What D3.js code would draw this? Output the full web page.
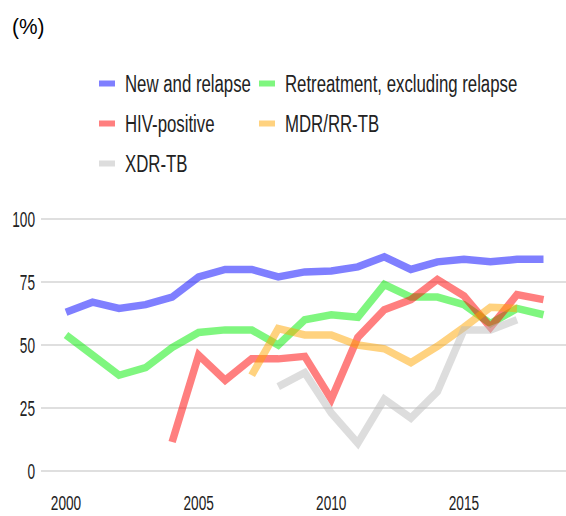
<!DOCTYPE html>
<html>
<head>
<meta charset="utf-8">
<script src="https://cdn.jsdelivr.net/npm/d3@7"></script>
<style>
  body { margin: 0; background: #fff; }
  svg { display: block; font-family: "Liberation Sans", Arial, sans-serif; }
</style>
</head>
<body>
<svg id="chart" width="566" height="516"></svg>
<script>
// chart data
const years = d3.range(2000, 2019);
const newRelapse = [63, 67, 64.5, 66, 69, 77, 80, 80, 77, 79, 79.4, 81, 85, 80, 83, 84, 83, 84, 84];
const retreatment = [54, 46, 38, 41, 49, 55, 56, 56, 50, 60, 62, 61, 74, 69, 69, 66, 58.5, 64.5, 62];
const hivPositive = [null, null, null, null, 11.5, 46, 36, 44.5, 44.5, 45.5, 28.5, 53, 64, 68, 76, 69.5, 57, 70, 68];
const mdrTB = [null, null, null, null, null, null, null, 38, 56.5, 54, 54, 50, 48.5, 43, 49.5, 57, 65, 64.5, null];
const xdrTB = [null, null, null, null, null, null, null, null, 33.5, 39, 23, 11, 28.5, 21, 31.5, 56, 56, 60, null];

const seriesNames = ["New and relapse", "Retreatment, excluding relapse", "HIV-positive", "MDR/RR-TB", "XDR-TB"];
const seriesColors = ["#0000ff", "#00ee00", "#ff0000", "#ffa500", "#bbbbbb"];
const yTicks = [0, 25, 50, 75, 100];
const xTicks = [2000, 2005, 2010, 2015];

const series = [newRelapse, retreatment, hivPositive, mdrTB, xdrTB];

function drawChart() {
    const svg = d3.select("#chart");

    const x = d3.scaleLinear().domain([2000, 2018]).range([66, 543.5]);
    const y = d3.scaleLinear().domain([0, 100]).range([471, 219]);

    addTitle(svg);
    drawGrid(svg, y);
    drawLines(svg, x, y);
    drawXLabels(svg, x);
    createLegend(svg);
}

// text squeezed horizontally, to look like the narrow face of the original
function narrowText(parent, x, y, sx, size, anchor, str) {
    const g = parent.append("g")
        .attr("transform", `translate(${x},${y}) scale(${sx},1)`);
    return g.append("text")
        .attr("text-anchor", anchor)
        .style("font-size", size + "px")
        .attr("fill", "#222")
        .text(str);
}

function addTitle(svg) {
    narrowText(svg, 12, 34, 0.95, 22, "start", "(%)").attr("fill", "#000");
}

function drawGrid(svg, y) {
    const grid = svg.append("g");
    grid.selectAll("line")
        .data(yTicks)
        .enter()
        .append("line")
        .attr("x1", 41)
        .attr("x2", 566)
        .attr("y1", d => y(d))
        .attr("y2", d => y(d))
        .attr("stroke", "#d4d4d4")
        .attr("stroke-width", 1.5);

    yTicks.forEach(d => {
        narrowText(grid, 35, y(d) + 8, 0.62, 22, "end", d);
    });
}

function drawLines(svg, x, y) {
    const line = d3.line()
        .defined(d => d[1] != null)
        .x(d => x(d[0]))
        .y(d => y(d[1]));

    svg.append("g")
        .selectAll("path")
        .data(series)
        .enter()
        .append("path")
        .attr("d", d => line(years.map((yr, i) => [yr, d[i]])))
        .attr("fill", "none")
        .attr("stroke", (d, i) => seriesColors[i])
        .attr("stroke-opacity", 0.5)
        .attr("stroke-width", 7.5)
        .attr("stroke-linejoin", "miter");
}

function drawXLabels(svg, x) {
    const g = svg.append("g");
    xTicks.forEach(d => {
        narrowText(g, x(d), 510, 0.65, 21, "middle", d);
    });
}

function createLegend(svg) {
    // two columns, three rows
    const cols = [99, 259];
    const rows = [91.5, 131.5, 171.5];

    seriesNames.forEach((name, i) => {
        const cx = cols[i % 2];
        const cy = rows[Math.floor(i / 2)];
        svg.append("rect")
            .attr("x", cx)
            .attr("y", cy - 11)
            .attr("width", 16)
            .attr("height", 6)
            .attr("fill", seriesColors[i])
            .attr("fill-opacity", 0.5);
        narrowText(svg, cx + 26, cy, 0.73, 23, "start", name);
    });
}

drawChart();
</script>
</body>
</html>
